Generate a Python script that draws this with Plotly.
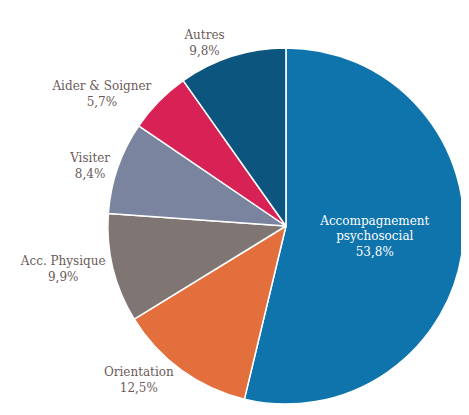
import plotly.graph_objects as go

labels = ["Accompagnement<br>psychosocial", "Orientation", "Acc. Physique", "Visiter", "Aider & Soigner", "Autres"]
values = [53.8, 12.5, 9.9, 8.4, 5.7, 9.8]
colors = ["#0e74ab", "#e36f3d", "#7f7573", "#7a849e", "#d82154", "#0b557e"]
positions = ["inside", "outside", "outside", "outside", "outside", "outside"]

# page body has an 8px margin, so the figure is sized to fit the window
W, H = 461, 407
cx, cy, r = 281, 218, 180

fig = go.Figure(go.Pie(
    labels=labels, values=values, sort=False, direction="clockwise", rotation=0,
    marker=dict(colors=colors, line=dict(color="white", width=1.5)),
    textposition=positions,
    texttemplate="%{label}<br>%{value:.1f}%",
    textfont=dict(family="DejaVu Serif", size=12),
    insidetextfont=dict(color="white", family="DejaVu Serif", size=12),
    outsidetextfont=dict(color="#6b5a5a", family="DejaVu Serif", size=12),
    insidetextorientation="horizontal",
    domain=dict(x=[(cx - r) / W, (cx + r) / W], y=[1 - (cy + r) / H, 1 - (cy - r) / H]),
    showlegend=False,
))
fig.update_layout(
    width=W, height=H, margin=dict(l=0, r=0, t=0, b=0),
    separators=", ", paper_bgcolor="white",
)
fig.write_html("out.html")
